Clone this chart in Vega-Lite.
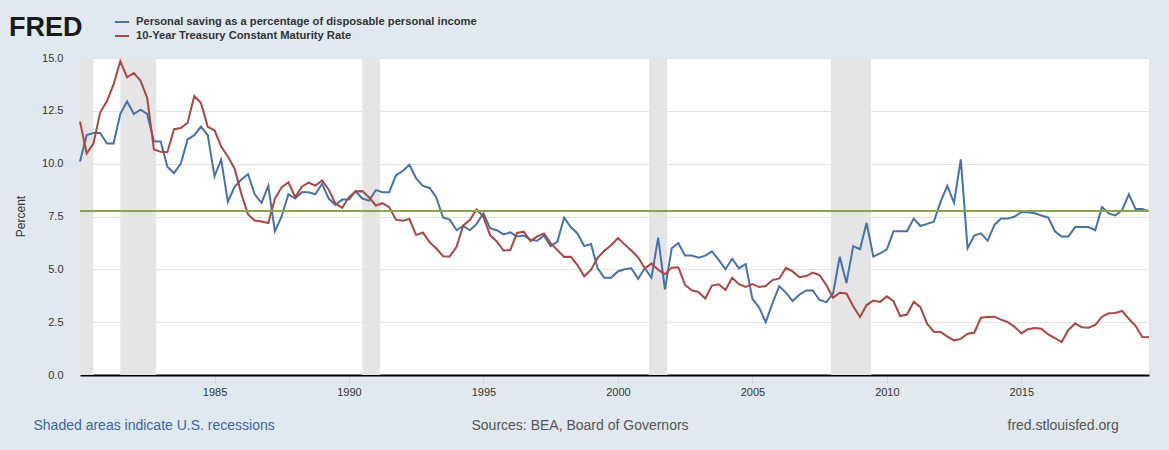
{
  "$schema": "https://vega.github.io/schema/vega-lite/v6.json",
  "width": 1069,
  "height": 317,
  "autosize": {"type": "none"},
  "padding": {"left": 80, "top": 58, "right": 20, "bottom": 75},
  "background": "#e1e9f0",
  "config": {"view": {"fill": "white", "stroke": null}, "font": "Liberation Sans"},
  "datasets": {
    "rec": [
      {"start": "1980-01-01", "end": "1980-07-01"},
      {"start": "1981-07-01", "end": "1982-11-01"},
      {"start": "1990-07-01", "end": "1991-03-01"},
      {"start": "2001-03-01", "end": "2001-11-01"},
      {"start": "2007-12-01", "end": "2009-06-01"}
    ],
    "series": [
      {"date":"1980-01-01","saving":10.1,"treasury":11.99},
      {"date":"1980-04-01","saving":11.35,"treasury":10.48},
      {"date":"1980-07-01","saving":11.45,"treasury":10.95},
      {"date":"1980-10-01","saving":11.45,"treasury":12.42},
      {"date":"1981-01-01","saving":10.95,"treasury":12.96},
      {"date":"1981-04-01","saving":10.95,"treasury":13.75},
      {"date":"1981-07-01","saving":12.35,"treasury":14.85},
      {"date":"1981-10-01","saving":12.95,"treasury":14.09},
      {"date":"1982-01-01","saving":12.35,"treasury":14.29},
      {"date":"1982-04-01","saving":12.55,"treasury":13.93},
      {"date":"1982-07-01","saving":12.35,"treasury":13.12},
      {"date":"1982-10-01","saving":11.05,"treasury":10.67},
      {"date":"1983-01-01","saving":11.05,"treasury":10.56},
      {"date":"1983-04-01","saving":9.85,"treasury":10.54},
      {"date":"1983-07-01","saving":9.55,"treasury":11.63},
      {"date":"1983-10-01","saving":10.0,"treasury":11.69},
      {"date":"1984-01-01","saving":11.15,"treasury":11.94},
      {"date":"1984-04-01","saving":11.35,"treasury":13.2},
      {"date":"1984-07-01","saving":11.75,"treasury":12.87},
      {"date":"1984-10-01","saving":11.35,"treasury":11.74},
      {"date":"1985-01-01","saving":9.4,"treasury":11.58},
      {"date":"1985-04-01","saving":10.2,"treasury":10.81},
      {"date":"1985-07-01","saving":8.2,"treasury":10.34},
      {"date":"1985-10-01","saving":8.9,"treasury":9.76},
      {"date":"1986-01-01","saving":9.25,"treasury":8.56},
      {"date":"1986-04-01","saving":9.5,"treasury":7.6},
      {"date":"1986-07-01","saving":8.55,"treasury":7.31},
      {"date":"1986-10-01","saving":8.15,"treasury":7.26},
      {"date":"1987-01-01","saving":8.95,"treasury":7.19},
      {"date":"1987-04-01","saving":6.8,"treasury":8.34},
      {"date":"1987-07-01","saving":7.5,"treasury":8.88},
      {"date":"1987-10-01","saving":8.55,"treasury":9.12},
      {"date":"1988-01-01","saving":8.35,"treasury":8.42},
      {"date":"1988-04-01","saving":8.65,"treasury":8.91},
      {"date":"1988-07-01","saving":8.65,"treasury":9.1},
      {"date":"1988-10-01","saving":8.55,"treasury":8.96},
      {"date":"1989-01-01","saving":9.05,"treasury":9.21},
      {"date":"1989-04-01","saving":8.35,"treasury":8.77},
      {"date":"1989-07-01","saving":8.05,"treasury":8.11},
      {"date":"1989-10-01","saving":8.3,"treasury":7.91},
      {"date":"1990-01-01","saving":8.3,"treasury":8.42},
      {"date":"1990-04-01","saving":8.7,"treasury":8.68},
      {"date":"1990-07-01","saving":8.35,"treasury":8.7},
      {"date":"1990-10-01","saving":8.25,"treasury":8.4},
      {"date":"1991-01-01","saving":8.75,"treasury":8.02},
      {"date":"1991-04-01","saving":8.65,"treasury":8.13},
      {"date":"1991-07-01","saving":8.65,"treasury":7.94},
      {"date":"1991-10-01","saving":9.45,"treasury":7.35},
      {"date":"1992-01-01","saving":9.65,"treasury":7.3},
      {"date":"1992-04-01","saving":9.95,"treasury":7.38},
      {"date":"1992-07-01","saving":9.3,"treasury":6.62},
      {"date":"1992-10-01","saving":8.95,"treasury":6.74},
      {"date":"1993-01-01","saving":8.85,"treasury":6.28},
      {"date":"1993-04-01","saving":8.4,"treasury":5.99},
      {"date":"1993-07-01","saving":7.45,"treasury":5.62},
      {"date":"1993-10-01","saving":7.35,"treasury":5.61},
      {"date":"1994-01-01","saving":6.85,"treasury":6.07},
      {"date":"1994-04-01","saving":7.05,"treasury":7.08},
      {"date":"1994-07-01","saving":6.85,"treasury":7.33},
      {"date":"1994-10-01","saving":7.15,"treasury":7.84},
      {"date":"1995-01-01","saving":7.65,"treasury":7.48},
      {"date":"1995-04-01","saving":6.95,"treasury":6.62},
      {"date":"1995-07-01","saving":6.85,"treasury":6.32},
      {"date":"1995-10-01","saving":6.65,"treasury":5.89},
      {"date":"1996-01-01","saving":6.75,"treasury":5.91},
      {"date":"1996-04-01","saving":6.55,"treasury":6.72},
      {"date":"1996-07-01","saving":6.6,"treasury":6.78},
      {"date":"1996-10-01","saving":6.4,"treasury":6.34},
      {"date":"1997-01-01","saving":6.35,"treasury":6.56},
      {"date":"1997-04-01","saving":6.6,"treasury":6.7},
      {"date":"1997-07-01","saving":6.1,"treasury":6.24},
      {"date":"1997-10-01","saving":6.3,"treasury":5.91},
      {"date":"1998-01-01","saving":7.45,"treasury":5.59},
      {"date":"1998-04-01","saving":7.0,"treasury":5.6},
      {"date":"1998-07-01","saving":6.7,"treasury":5.2},
      {"date":"1998-10-01","saving":6.1,"treasury":4.67},
      {"date":"1999-01-01","saving":6.2,"treasury":4.98},
      {"date":"1999-04-01","saving":5.05,"treasury":5.54},
      {"date":"1999-07-01","saving":4.6,"treasury":5.88},
      {"date":"1999-10-01","saving":4.6,"treasury":6.14},
      {"date":"2000-01-01","saving":4.9,"treasury":6.48},
      {"date":"2000-04-01","saving":5.0,"treasury":6.18},
      {"date":"2000-07-01","saving":5.05,"treasury":5.89},
      {"date":"2000-10-01","saving":4.55,"treasury":5.57},
      {"date":"2001-01-01","saving":5.05,"treasury":5.05},
      {"date":"2001-04-01","saving":4.6,"treasury":5.27},
      {"date":"2001-07-01","saving":6.5,"treasury":4.98},
      {"date":"2001-10-01","saving":4.05,"treasury":4.77},
      {"date":"2002-01-01","saving":6.0,"treasury":5.08},
      {"date":"2002-04-01","saving":6.25,"treasury":5.1},
      {"date":"2002-07-01","saving":5.65,"treasury":4.26},
      {"date":"2002-10-01","saving":5.65,"treasury":4.01},
      {"date":"2003-01-01","saving":5.55,"treasury":3.92},
      {"date":"2003-04-01","saving":5.65,"treasury":3.62},
      {"date":"2003-07-01","saving":5.85,"treasury":4.23},
      {"date":"2003-10-01","saving":5.45,"treasury":4.29},
      {"date":"2004-01-01","saving":5.0,"treasury":4.02},
      {"date":"2004-04-01","saving":5.5,"treasury":4.6},
      {"date":"2004-07-01","saving":5.05,"treasury":4.3},
      {"date":"2004-10-01","saving":5.25,"treasury":4.17},
      {"date":"2005-01-01","saving":3.6,"treasury":4.3},
      {"date":"2005-04-01","saving":3.2,"treasury":4.16},
      {"date":"2005-07-01","saving":2.5,"treasury":4.21},
      {"date":"2005-10-01","saving":3.4,"treasury":4.49},
      {"date":"2006-01-01","saving":4.2,"treasury":4.57},
      {"date":"2006-04-01","saving":3.9,"treasury":5.07},
      {"date":"2006-07-01","saving":3.5,"treasury":4.9},
      {"date":"2006-10-01","saving":3.8,"treasury":4.63},
      {"date":"2007-01-01","saving":4.0,"treasury":4.68},
      {"date":"2007-04-01","saving":4.0,"treasury":4.85},
      {"date":"2007-07-01","saving":3.55,"treasury":4.73},
      {"date":"2007-10-01","saving":3.45,"treasury":4.26},
      {"date":"2008-01-01","saving":3.85,"treasury":3.66},
      {"date":"2008-04-01","saving":5.6,"treasury":3.89},
      {"date":"2008-07-01","saving":4.35,"treasury":3.86},
      {"date":"2008-10-01","saving":6.1,"treasury":3.25},
      {"date":"2009-01-01","saving":5.95,"treasury":2.74},
      {"date":"2009-04-01","saving":7.2,"treasury":3.31},
      {"date":"2009-07-01","saving":5.6,"treasury":3.52},
      {"date":"2009-10-01","saving":5.75,"treasury":3.46},
      {"date":"2010-01-01","saving":5.95,"treasury":3.72},
      {"date":"2010-04-01","saving":6.8,"treasury":3.49},
      {"date":"2010-07-01","saving":6.8,"treasury":2.79},
      {"date":"2010-10-01","saving":6.8,"treasury":2.86},
      {"date":"2011-01-01","saving":7.4,"treasury":3.46},
      {"date":"2011-04-01","saving":7.05,"treasury":3.21},
      {"date":"2011-07-01","saving":7.15,"treasury":2.43},
      {"date":"2011-10-01","saving":7.25,"treasury":2.05},
      {"date":"2012-01-01","saving":8.2,"treasury":2.04},
      {"date":"2012-04-01","saving":8.95,"treasury":1.82},
      {"date":"2012-07-01","saving":8.15,"treasury":1.64},
      {"date":"2012-10-01","saving":10.2,"treasury":1.71},
      {"date":"2013-01-01","saving":6.0,"treasury":1.95},
      {"date":"2013-04-01","saving":6.6,"treasury":2.0},
      {"date":"2013-07-01","saving":6.7,"treasury":2.71},
      {"date":"2013-10-01","saving":6.35,"treasury":2.75},
      {"date":"2014-01-01","saving":7.1,"treasury":2.76},
      {"date":"2014-04-01","saving":7.4,"treasury":2.62},
      {"date":"2014-07-01","saving":7.4,"treasury":2.5},
      {"date":"2014-10-01","saving":7.5,"treasury":2.28},
      {"date":"2015-01-01","saving":7.7,"treasury":1.97},
      {"date":"2015-04-01","saving":7.7,"treasury":2.17},
      {"date":"2015-07-01","saving":7.65,"treasury":2.22},
      {"date":"2015-10-01","saving":7.55,"treasury":2.19},
      {"date":"2016-01-01","saving":7.45,"treasury":1.92},
      {"date":"2016-04-01","saving":6.8,"treasury":1.75},
      {"date":"2016-07-01","saving":6.55,"treasury":1.56},
      {"date":"2016-10-01","saving":6.55,"treasury":2.13},
      {"date":"2017-01-01","saving":7.0,"treasury":2.44},
      {"date":"2017-04-01","saving":7.0,"treasury":2.26},
      {"date":"2017-07-01","saving":7.0,"treasury":2.24},
      {"date":"2017-10-01","saving":6.85,"treasury":2.37},
      {"date":"2018-01-01","saving":7.95,"treasury":2.76},
      {"date":"2018-04-01","saving":7.65,"treasury":2.92},
      {"date":"2018-07-01","saving":7.55,"treasury":2.93},
      {"date":"2018-10-01","saving":7.8,"treasury":3.03},
      {"date":"2019-01-01","saving":8.55,"treasury":2.65},
      {"date":"2019-04-01","saving":7.85,"treasury":2.33},
      {"date":"2019-07-01","saving":7.85,"treasury":1.8},
      {"date":"2019-10-01","saving":7.75,"treasury":1.79}
    ]
  },
  "layer": [
    {
      "data": {"name": "rec"},
      "mark": {"type": "rect", "color": "#e5e5e5"},
      "encoding": {
        "x": {
          "field": "start", "type": "temporal",
          "scale": {"type": "utc", "nice": false, "domain": [{"year": 1980, "month": 1, "date": 1, "utc": true}, {"year": 2019, "month": 10, "date": 1, "utc": true}]},
          "axis": {
            "orient": "bottom",
            "values": [{"year": 1985, "utc": true}, {"year": 1990, "utc": true}, {"year": 1995, "utc": true}, {"year": 2000, "utc": true}, {"year": 2005, "utc": true}, {"year": 2010, "utc": true}, {"year": 2015, "utc": true}],
            "format": "%Y", "grid": false,
            "domainColor": "#000000", "domainWidth": 2,
            "tickColor": "#ccd6eb", "tickSize": 8, "tickWidth": 1,
            "labelPadding": 3, "labelFontSize": 11, "labelColor": "#333333",
            "title": "Shaded areas indicate U.S. recessions",
            "titleAnchor": "start", "titleAlign": "left", "titleBaseline": "middle",
            "titleX": -47, "titleY": 50, "titleFontSize": 14, "titleFontWeight": "normal", "titleColor": "#3a67a3"
          }
        },
        "x2": {"field": "end"}
      }
    },
    {
      "data": {"name": "series"},
      "transform": [{"fold": ["saving", "treasury"], "as": ["series", "value"]}],
      "mark": {"type": "line", "strokeWidth": 2},
      "encoding": {
        "x": {
          "field": "date", "type": "temporal",
          "axis": {
            "orient": "bottom",
            "labels": false, "ticks": false, "domain": false, "grid": false,
            "title": "Sources: BEA, Board of Governors",
            "titleAnchor": "start", "titleAlign": "left", "titleBaseline": "middle",
            "titleX": 391, "titleY": 50, "titleFontSize": 14, "titleFontWeight": "normal", "titleColor": "#555555"
          }
        },
        "y": {
          "field": "value", "type": "quantitative",
          "scale": {"domain": [0, 15], "nice": false, "zero": true},
          "axis": {
            "values": [0, 2.5, 5, 7.5, 10, 12.5, 15], "format": ".1f",
            "grid": true, "gridColor": "#e3e3e3", "gridWidth": 1,
            "domain": false, "ticks": false,
            "labelPadding": 17, "labelFontSize": 11, "labelColor": "#333333",
            "title": "Percent", "titleFontSize": 12, "titleFontWeight": "normal", "titleColor": "#333333",
            "titleX": -60, "titleY": 158, "titleAlign": "center", "titleBaseline": "middle"
          }
        },
        "color": {
          "field": "series", "type": "nominal",
          "scale": {"domain": ["saving", "treasury"], "range": ["#4572a7", "#aa4643"]},
          "legend": {
            "orient": "none", "legendX": -71, "legendY": -44,
            "title": "FRED", "titleOrient": "left", "titleFontSize": 27, "titleFontWeight": 900,
            "titleColor": "#1a1a1a", "titlePadding": 31,
            "symbolType": "stroke", "symbolSize": 196, "symbolStrokeWidth": 2,
            "labelFontSize": 11.2, "labelFontWeight": "bold", "labelColor": "#333333",
            "labelOffset": 6, "rowPadding": -2, "labelLimit": 0,
            "labelExpr": "datum.label == 'saving' ? 'Personal saving as a percentage of disposable personal income' : '10-Year Treasury Constant Maturity Rate'"
          }
        }
      }
    },
    {
      "data": {"values": [{}]},
      "mark": {"type": "rule", "color": "#89a54e", "strokeWidth": 2},
      "encoding": {
        "y": {
          "datum": 7.76, "type": "quantitative",
          "axis": {
            "orient": "right", "labels": false, "ticks": false, "domain": false, "grid": false,
            "title": "fred.stlouisfed.org", "titleAngle": 0,
            "titleAlign": "left", "titleBaseline": "middle",
            "titleX": -142, "titleY": 367, "titleFontSize": 14, "titleFontWeight": "normal", "titleColor": "#555555"
          }
        }
      }
    }
  ],
  "resolve": {"axis": {"x": "independent", "y": "independent"}}
}
